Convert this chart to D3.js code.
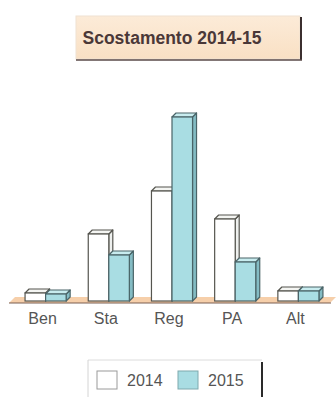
<!DOCTYPE html>
<html>
<head>
<meta charset="utf-8">
<script src="https://cdn.jsdelivr.net/npm/d3@7"></script>
<style>
  html, body { margin: 0; padding: 0; background: #ffffff; }
  svg { display: block; }
</style>
</head>
<body>
<svg id="chart" width="336" height="397"></svg>
<script>
const title = "Scostamento 2014-15";
const categories = ["Ben", "Sta", "Reg", "PA", "Alt"];
const seriesNames = ["2014", "2015"];
const values2014 = [8, 67, 110, 82, 10];
const values2015 = [7, 46, 184, 39, 10];

const W = 336, H = 397;
const svg = d3.select("#chart");

const fills = {
  "2014": { front: "#ffffff", side: "#eef0ee", top: "#f4f5f2", stroke: "#55554f" },
  "2015": { front: "#a9dde3", side: "#84bcc4", top: "#c8ecef", stroke: "#4a6468" }
};
const depthX = 4, depthY = 4;

// Title box
const tb = { x: 76, y: 16, w: 224, h: 43 };
const grad = svg.append("defs").append("linearGradient").attr("id", "tg")
  .attr("x1", 0).attr("y1", 0).attr("x2", 0).attr("y2", 1);
grad.append("stop").attr("offset", "0%").attr("stop-color", "#fcebd8");
grad.append("stop").attr("offset", "100%").attr("stop-color", "#f9e0c4");
svg.append("rect").attr("x", tb.x).attr("y", tb.y).attr("width", tb.w).attr("height", tb.h)
  .attr("fill", "url(#tg)").attr("stroke", "#efe2d2").attr("stroke-width", 1);
svg.append("line").attr("x1", tb.x + tb.w + 1).attr("x2", tb.x + tb.w + 1)
  .attr("y1", tb.y + 1).attr("y2", tb.y + tb.h + 1).attr("stroke", "#3b2f2f").attr("stroke-width", 2);
svg.append("line").attr("x1", tb.x).attr("x2", tb.x + tb.w + 2)
  .attr("y1", tb.y + tb.h + 1).attr("y2", tb.y + tb.h + 1).attr("stroke", "#5a4a48").attr("stroke-width", 1.5);
svg.append("text").attr("x", 172).attr("y", 44).attr("text-anchor", "middle")
  .attr("font-family", "Liberation Sans, Arial, sans-serif").attr("font-weight", "bold")
  .attr("font-size", 17.5).attr("fill", "#4a3838").text(title);

// Scales
const x = d3.scaleBand().domain(categories).range([14, 330]).paddingInner(0.35).paddingOuter(0.175);
const xs = d3.scaleBand().domain(seriesNames).range([0, x.bandwidth()]);
const y = d3.scaleLinear().domain([0, 200]).range([301, 101]);

// Floor
const floorFront = 303, floorBack = 297;
svg.append("path")
  .attr("d", `M9,${floorFront} L${15},${floorBack} L${336},${floorBack} L${330},${floorFront} Z`)
  .attr("fill", "#f6cfaa").attr("stroke", "none");
svg.append("line").attr("x1", 9).attr("x2", 331).attr("y1", floorFront).attr("y2", floorFront)
  .attr("stroke", "#7a5e50").attr("stroke-width", 1.2);

// Bars
const rows = [];
categories.forEach((c, i) => {
  rows.push({ cat: c, s: "2014", v: values2014[i] });
  rows.push({ cat: c, s: "2015", v: values2015[i] });
});
const g = svg.append("g");
rows.forEach(d => {
  const x0 = x(d.cat) + xs(d.s), w = xs.bandwidth();
  const y0 = y(d.v), y1 = y(0);
  const f = fills[d.s];
  const bar = g.append("g");
  bar.append("path")
    .attr("d", `M${x0 + w},${y0} L${x0 + w + depthX},${y0 - depthY} L${x0 + w + depthX},${y1 - depthY} L${x0 + w},${y1} Z`)
    .attr("fill", f.side).attr("stroke", f.stroke).attr("stroke-width", 1.2).attr("stroke-linejoin", "round");
  bar.append("path")
    .attr("d", `M${x0},${y0} L${x0 + depthX},${y0 - depthY} L${x0 + w + depthX},${y0 - depthY} L${x0 + w},${y0} Z`)
    .attr("fill", f.top).attr("stroke", f.stroke).attr("stroke-width", 1.2).attr("stroke-linejoin", "round");
  bar.append("rect").attr("x", x0).attr("y", y0).attr("width", w).attr("height", y1 - y0)
    .attr("fill", f.front).attr("stroke", f.stroke).attr("stroke-width", 1.2);
});

// Category labels
svg.append("g").selectAll("text").data(categories).join("text")
  .attr("x", d => x(d) + x.bandwidth() / 2 - 3)
  .attr("y", 324)
  .attr("text-anchor", "middle")
  .attr("font-family", "Liberation Sans, Arial, sans-serif")
  .attr("font-size", 16).attr("fill", "#555555")
  .text(d => d);

// Legend
const lg = { x: 88, y: 360, w: 174 };
svg.append("line").attr("x1", lg.x).attr("x2", lg.x + lg.w).attr("y1", lg.y).attr("y2", lg.y)
  .attr("stroke", "#dcdcdc").attr("stroke-width", 1);
svg.append("line").attr("x1", lg.x).attr("x2", lg.x).attr("y1", lg.y).attr("y2", H)
  .attr("stroke", "#d4d4d4").attr("stroke-width", 1);
svg.append("line").attr("x1", lg.x + lg.w).attr("x2", lg.x + lg.w).attr("y1", lg.y + 2).attr("y2", H)
  .attr("stroke", "#2a2a2a").attr("stroke-width", 2);
const legX = [97, 178];
seriesNames.forEach((s, i) => {
  svg.append("rect").attr("x", legX[i]).attr("y", 371).attr("width", 20).attr("height", 18)
    .attr("fill", fills[s].front).attr("stroke", i === 0 ? "#9a9a9a" : "#7fa9ae").attr("stroke-width", 1);
  svg.append("text").attr("x", legX[i] + 30).attr("y", 386)
    .attr("font-family", "Liberation Sans, Arial, sans-serif").attr("font-size", 16)
    .attr("fill", "#555555").text(s);
});
</script>
</body>
</html>
